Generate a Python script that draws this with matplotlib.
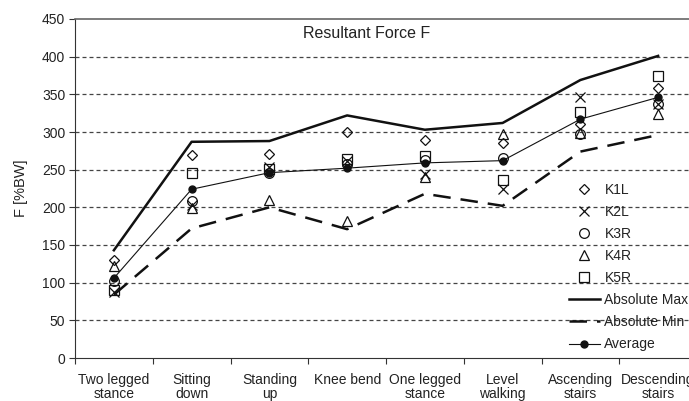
import matplotlib
matplotlib.use("Agg")
import matplotlib.pyplot as plt
import numpy as np

plt.rcParams['font.family'] = ['Liberation Sans', 'DejaVu Sans']

categories = ["Two legged\nstance", "Sitting\ndown", "Standing\nup", "Knee bend",
              "One legged\nstance", "Level\nwalking", "Ascending\nstairs", "Descending\nstairs"]

k1l = [130, 270, 271, 300, 289, 286, 311, 359]
k2l = [88, 203, 254, 262, 244, 224, 346, 337]
k3r = [102, 209, 245, 258, 263, 265, 297, 337]
k4r = [122, 199, 210, 182, 240, 297, 299, 324]
k5r = [90, 245, 251, 264, 268, 236, 326, 374]
abs_max = [143, 287, 288, 322, 303, 312, 369, 401]
abs_min = [84, 172, 200, 171, 218, 202, 274, 296]
average = [106, 224, 246, 252, 259, 262, 317, 346]

yticks = [0, 50, 100, 150, 200, 250, 300, 350, 400, 450]

fig = plt.figure(figsize=(6.89, 4.01), dpi=100)
ax = fig.add_axes([75/689, 43/401, 622/689, 339/401])

x = np.arange(len(categories)) + 0.5
tc = '#222222'

# grid
for v in yticks[1:-1]:
    ax.axhline(v, color='#444444', lw=0.9, ls=(0, (3.2, 2.4)), zorder=1)

ms = dict(mfc='none', mec='#111111', mew=0.9, ls='none', zorder=3)
ax.plot(x, k1l, marker='D', ms=5, label='K1L', **ms)
ax.plot(x, k2l, marker='x', ms=7, label='K2L', **ms)
ax.plot(x, k3r, marker='o', ms=7, label='K3R', **ms)
ax.plot(x, k4r, marker='^', ms=7, label='K4R', **ms)
ax.plot(x, k5r, marker='s', ms=7, label='K5R', **ms)
ax.plot(x, abs_max, color='#111111', lw=1.8, label='Absolute Max', zorder=2)
ax.plot(x, abs_min, color='#111111', lw=1.8, ls=(0, (7, 4)), label='Absolute Min', zorder=2)
ax.plot(x, average, color='#111111', lw=0.8, marker='o', ms=5, mfc='#111111',
        mec='#111111', label='Average', zorder=4)

ax.set_xlim(0, 8)
ax.set_ylim(0, 450)
ax.set_yticks(yticks)
ax.set_xticks(np.arange(0, 9))
ax.set_xticklabels([])
ax.set_xticks(x, minor=True)
ax.set_xticklabels(categories, minor=True, fontsize=10, color=tc, linespacing=1.02)
ax.tick_params(axis='x', which='minor', length=0, pad=11)
ax.tick_params(axis='x', which='major', length=4, direction='out', color='#333333')
ax.tick_params(axis='y', length=4, direction='out', color='#333333', labelsize=10,
               labelcolor=tc, pad=3)

ax.spines['right'].set_visible(False)
ax.spines['top'].set_color('#666666')
ax.spines['top'].set_linewidth(1.2)
ax.spines['left'].set_color('#333333')
ax.spines['bottom'].set_color('#333333')

ax.set_ylabel('F [%BW]', fontsize=10.5, color=tc, labelpad=10)
ax.text(367/689, 1 - 34/401, 'Resultant Force F', transform=fig.transFigure,
        ha='center', va='center', fontsize=11.5, color=tc)

leg = ax.legend(loc='upper left', bbox_to_anchor=(569/689, 1 - 183/401),
                bbox_transform=fig.transFigure, frameon=False, fontsize=10,
                handlelength=2.2, handletextpad=0.35, labelspacing=0.58,
                borderaxespad=0, borderpad=0)
for t in leg.get_texts():
    t.set_color(tc)

fig.savefig('out.png', dpi=100)
